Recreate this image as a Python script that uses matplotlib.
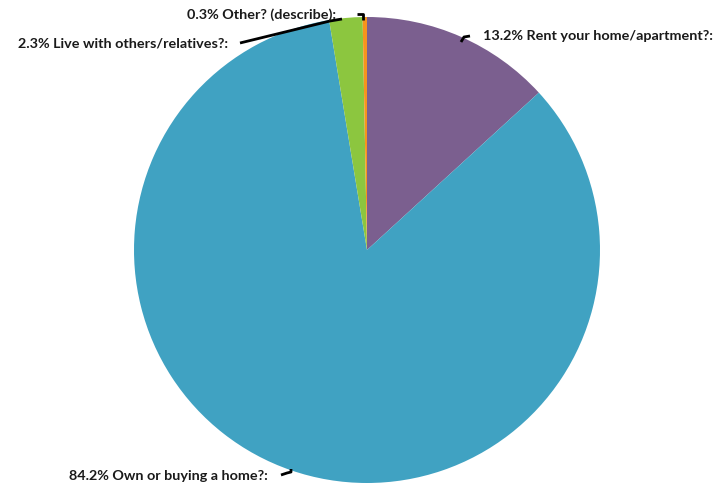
import matplotlib.pyplot as plt

# housing situation shares, clockwise from 12 o'clock
labels = ["Rent your home/apartment?:", "Own or buying a home?:",
          "Live with others/relatives?:", "Other? (describe):"]
shares = [13.2, 84.2, 2.3, 0.3]
colors = ["#7b5f8f", "#40a2c2", "#8cc63f", "#f7941d"]

W, H = 718, 495
fig = plt.figure(figsize=(W / 100, H / 100), dpi=100)
ax = fig.add_axes([0, 0, 1, 1])

ax.pie(shares, colors=colors, startangle=90, counterclock=False,
       center=(367, 245), radius=233, frame=True,
       wedgeprops=dict(linewidth=0))
ax.set_xlim(0, W)
ax.set_ylim(0, H)
ax.set_aspect("equal")
ax.axis("off")

font = dict(family="Lato", fontweight="bold", fontsize=10.4, color="#1a1a1a")

# (text x, text y, alignment) and leader line for each slice
placements = [
    (483, 459, "left", [(461, 453), (464, 458), (470, 459)]),
    (268, 19, "right", [(281, 20), (287, 22), (291, 23), (291, 26)]),
    (228, 452, "right", [(240, 452), (330, 474), (342, 476)]),
    (336, 480, "right", [(357, 481), (363, 481), (363, 475)]),
]
for lab, val, (x, y, ha, pts) in zip(labels, shares, placements):
    xs, ys = zip(*pts)
    ax.plot(xs, ys, color="black", lw=2, solid_capstyle="butt")
    ax.text(x, y, f"{val:.1f}% {lab}", ha=ha, va="center", **font)

fig.savefig("out.png", dpi=100, facecolor="white")
